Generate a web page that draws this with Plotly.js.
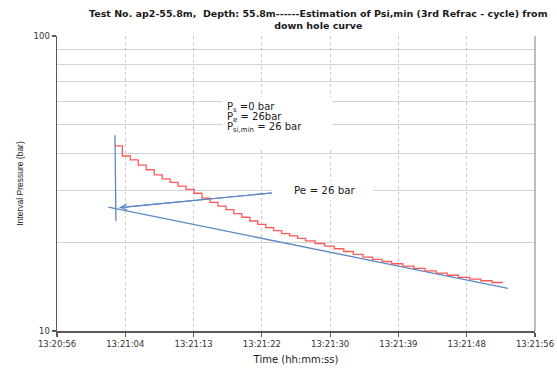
<!DOCTYPE html>
<html><head><meta charset="utf-8">
<script src="https://cdn.plot.ly/plotly-3.0.1.min.js"></script>
<style>html,body{margin:0;padding:0;background:#fff}</style>
</head><body><div id="chart" style="width:557px;height:368px"></div>
<script>
// x values are seconds after 13:20:56
const tickLabels = ['13:20:56','13:21:04','13:21:13','13:21:22','13:21:30','13:21:39','13:21:48','13:21:56'];
const yTickLabels = ['10','100'];
const yTickValues = [10, 100];
const yMinorTicks = [20, 30, 40, 50, 60, 70, 80, 90];

// Down-hole interval pressure (stepped record)
const redTime = [7.2, 8.2, 9.2, 10.2, 11.2, 12.2, 13.2, 14.2, 15.2, 16.2, 17.2, 18.2, 19.2, 20.2, 21.2, 22.2, 23.2, 24.2, 25.2, 26.2, 27.2, 28.2, 29.2, 30.2, 31.2, 32.4, 33.6, 34.8, 36.0, 37.2, 38.4, 39.6, 40.8, 42.0, 43.4, 44.8, 46.2, 47.6, 49.0, 50.4, 51.8, 53.2, 54.6, 55.9];
const redPressure = [42.4, 39.2, 38.0, 36.5, 35.2, 33.8, 32.8, 31.9, 31.0, 30.2, 29.3, 28.2, 27.3, 26.5, 25.8, 25.0, 24.3, 23.6, 23.0, 22.4, 21.9, 21.4, 21.0, 20.6, 20.2, 19.8, 19.4, 19.0, 18.6, 18.2, 17.8, 17.5, 17.2, 16.9, 16.6, 16.3, 16.0, 15.7, 15.45, 15.2, 15.0, 14.8, 14.6, 14.55];

// Construction lines
const tangentTime = [6.44, 56.6];
const tangentPressure = [26.3, 13.95];
const shutInTime = [7.28, 7.40];
const shutInPressure = [46.1, 23.6];
const arrowTime = [27.1, 7.85];
const arrowPressure = [29.4, 26.2];

const titleText = 'Test No. ap2-55.8m,  Depth: 55.8m------Estimation of Psi,min (3rd Refrac - cycle) from<br>down hole curve';

const blue = '#5b87c5';
const red = '#ff5a5a';

const traces = [
  {x: tangentTime, y: tangentPressure, mode: 'lines', line: {color: blue, width: 1.3}, hoverinfo: 'skip'},
  {x: shutInTime, y: shutInPressure, mode: 'lines', line: {color: blue, width: 1.3}, hoverinfo: 'skip'},
  {x: arrowTime, y: arrowPressure, mode: 'lines', line: {color: blue, width: 1.1}, hoverinfo: 'skip'},
  {x: redTime, y: redPressure, mode: 'lines', line: {color: red, width: 1.3, shape: 'hv'}, hoverinfo: 'skip'}
];

const tickVals = tickLabels.map((_, i) => i * 60 / (tickLabels.length - 1));
const txtFont = {family: 'DejaVu Sans', size: 10, color: '#1a1a1a'};

const layout = {
  width: 557, height: 368,
  margin: {l: 57, r: 22, t: 36, b: 37},
  paper_bgcolor: '#fff', plot_bgcolor: '#fff',
  showlegend: false,
  xaxis: {
    range: [0, 60], tickvals: tickVals, ticktext: tickLabels,
    ticks: 'outside', ticklen: 4, tickcolor: '#595959', tickwidth: 1.2,
    tickfont: {family: 'DejaVu Sans', size: 8.5, color: '#333'},
    showgrid: true, gridcolor: '#c8c8c8', griddash: 'dot', gridwidth: 1,
    showline: true, linecolor: '#595959', linewidth: 1.5, zeroline: false,
    title: {text: 'Time (hh:mm:ss)', font: {family: 'DejaVu Sans', size: 10, color: '#1a1a1a'}, standoff: 8}
  },
  yaxis: {
    type: 'log', range: [1, 2], tickvals: yTickValues, ticktext: yTickLabels,
    ticks: 'outside', ticklen: 4, tickcolor: '#595959', tickwidth: 1.2,
    tickfont: {family: 'DejaVu Sans', size: 8.5, color: '#333'},
    showgrid: true, gridcolor: '#d2d2d2', gridwidth: 1.2,
    minor: {tickvals: yMinorTicks, showgrid: true, gridcolor: '#d2d2d2', gridwidth: 1.2, ticks: ''},
    showline: true, linecolor: '#595959', linewidth: 1.5, zeroline: false,
    title: {text: 'Interval Pressure (bar)', font: {family: 'Liberation Sans', size: 8.5, color: '#1a1a1a'}, standoff: 8}
  },
  shapes: [
    {type: 'line', xref: 'paper', yref: 'paper', x0: 1, x1: 1, y0: 0, y1: 1, line: {color: '#a6a6a6', width: 1.5}},
    {type: 'rect', xref: 'paper', yref: 'paper', layer: 'above',
     x0: (222 - 57) / 478, x1: (333 - 57) / 478, y0: (331 - 147) / 295, y1: (331 - 97) / 295,
     fillcolor: '#fff', line: {width: 0}},
    {type: 'rect', xref: 'paper', yref: 'paper', layer: 'above',
     x0: (272 - 57) / 478, x1: (373 - 57) / 478, y0: (331 - 200) / 295, y1: (331 - 181) / 295,
     fillcolor: '#fff', line: {width: 0}}
  ],
  annotations: [
    {xref: 'paper', yref: 'paper', x: (318 - 57) / 478, y: 1 + (36 - 33) / 295, xanchor: 'center', yanchor: 'bottom',
     text: titleText, showarrow: false, align: 'center',
     font: {family: 'DejaVu Sans', size: 9.5, weight: 'bold', color: '#1a1a1a'}},
    {xref: 'paper', yref: 'paper', x: (225 - 57) / 478, y: (331 - 107) / 295, xanchor: 'left', yanchor: 'middle',
     text: 'P<sub>s</sub> =0 bar', showarrow: false, font: txtFont},
    {xref: 'paper', yref: 'paper', x: (225 - 57) / 478, y: (331 - 117) / 295, xanchor: 'left', yanchor: 'middle',
     text: 'P<sub>e</sub> = 26bar', showarrow: false, font: txtFont},
    {xref: 'paper', yref: 'paper', x: (225 - 57) / 478, y: (331 - 128) / 295, xanchor: 'left', yanchor: 'middle',
     text: 'P<sub>si,min</sub> = 26 bar', showarrow: false, font: txtFont},
    {xref: 'paper', yref: 'paper', x: (292 - 57) / 478, y: (331 - 190) / 295, xanchor: 'left', yanchor: 'middle',
     text: 'Pe = 26 bar', showarrow: false, font: {family: 'DejaVu Sans', size: 10.3, color: '#1a1a1a'}},
    {xref: 'x', yref: 'y', axref: 'x', ayref: 'y',
     x: arrowTime[1], y: Math.log10(arrowPressure[1]),
     ax: arrowTime[0], ay: Math.log10(arrowPressure[0]),
     text: '', showarrow: true, arrowhead: 5, arrowsize: 1.1, arrowwidth: 1.1, arrowcolor: blue, standoff: 0}
  ]
};

Plotly.newPlot('chart', traces, layout, {displayModeBar: false, staticPlot: true});
</script>
</body></html>
